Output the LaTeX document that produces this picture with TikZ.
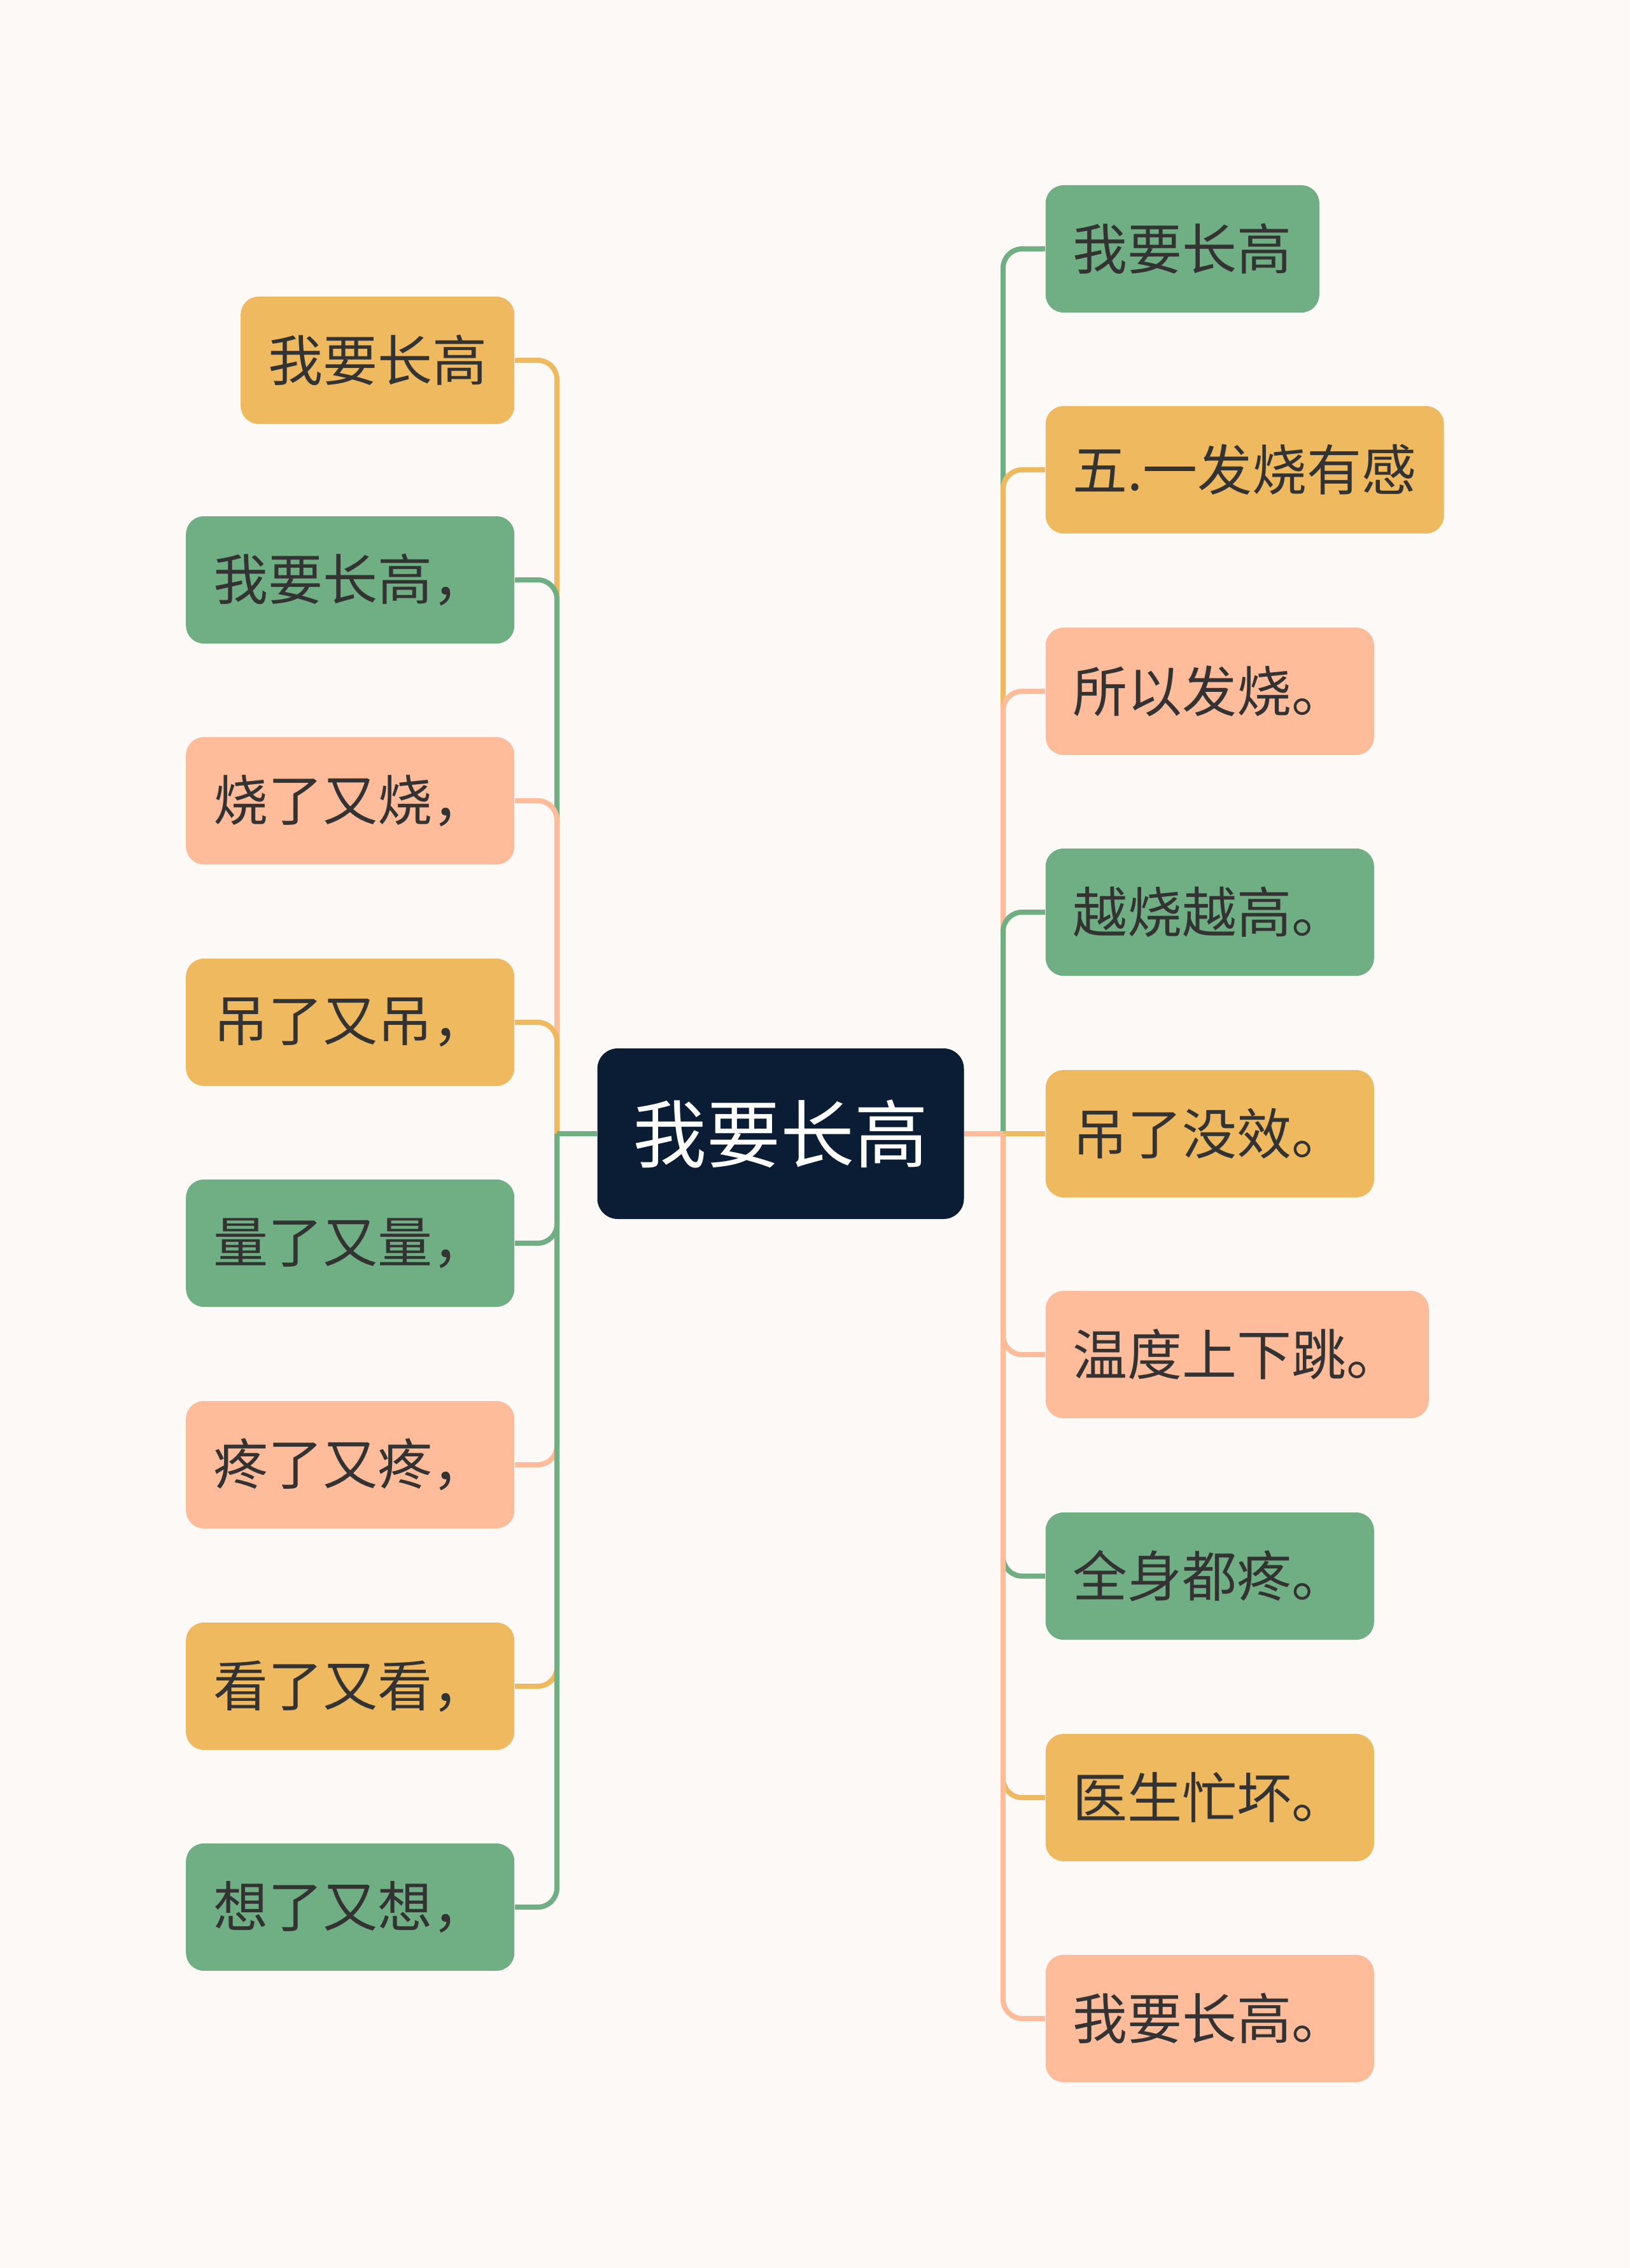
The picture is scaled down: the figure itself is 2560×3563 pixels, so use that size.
\documentclass[tikz,border=0pt]{standalone}
\usepackage{fontspec}
\setmainfont{Noto Sans CJK SC}
\usetikzlibrary{positioning}
\definecolor{bg}{HTML}{FDF9F7}
\definecolor{gr}{HTML}{70AF84}
\definecolor{ye}{HTML}{EFBA5F}
\definecolor{pe}{HTML}{FEBC9A}
\definecolor{nv}{HTML}{0B1C35}
\definecolor{ink}{HTML}{333333}
\begin{document}
\begin{tikzpicture}[x=0.25pt,y=-0.25pt,
  leaf/.style={rounded corners=7pt,minimum height=50pt,inner xsep=10.75pt,inner ysep=0pt,font=\fontsize{21.5}{26}\selectfont,text=ink},
  gbox/.style={leaf,fill=gr},
  ybox/.style={leaf,fill=ye},
  pbox/.style={leaf,fill=pe},
  root/.style={fill=nv,rounded corners=8pt,minimum height=67pt,inner xsep=14pt,inner ysep=0pt,font=\fontsize{29}{34}\selectfont,text=white},
  ln/.style={line width=2pt,rounded corners=7.5pt},
  gl/.style={ln,draw=gr},
  yl/.style={ln,draw=ye},
  pl/.style={ln,draw=pe}]
\fill[bg] (0,0) rectangle (2560,3563);
\node[root] (c) at (1226.5,1781) {我要长高};
\node[ybox,anchor=east] (l1) at (809,566) {我要长高};
\node[gbox,anchor=east] (l2) at (809,911) {我要长高，};
\node[pbox,anchor=east] (l3) at (809,1258) {烧了又烧，};
\node[ybox,anchor=east] (l4) at (809,1606) {吊了又吊，};
\node[gbox,anchor=east] (l5) at (809,1953) {量了又量，};
\node[pbox,anchor=east] (l6) at (809,2301) {疼了又疼，};
\node[ybox,anchor=east] (l7) at (809,2649) {看了又看，};
\node[gbox,anchor=east] (l8) at (809,2996) {想了又想，};
\node[gbox,anchor=west] (r1) at (1642,391) {我要长高};
\node[ybox,anchor=west] (r2) at (1642,738) {五.一发烧有感};
\node[pbox,anchor=west] (r3) at (1642,1086) {所以发烧。};
\node[gbox,anchor=west] (r4) at (1642,1433) {越烧越高。};
\node[ybox,anchor=west] (r5) at (1642,1781) {吊了没效。};
\node[pbox,anchor=west] (r6) at (1642,2128) {温度上下跳。};
\node[gbox,anchor=west] (r7) at (1642,2476) {全身都疼。};
\node[ybox,anchor=west] (r8) at (1642,2824) {医生忙坏。};
\node[pbox,anchor=west] (r9) at (1642,3171) {我要长高。};
\coordinate (lj) at (875,1781);
\coordinate (rj) at (1576,1781);
\foreach \n/\s in {l1/yl,l2/gl,l3/pl,l4/yl,l5/gl,l6/pl,l7/yl,l8/gl}{
  \draw[\s] (c.west) -- (lj);
  \draw[\s] (lj) |- (\n.east);
}
\foreach \n/\s in {r1/gl,r2/yl,r3/pl,r4/gl}{
  \draw[\s] (c.east) -- (rj);
  \draw[\s] (rj) |- (\n.west);
}
\draw[yl] (c.east) -- (rj) -- (r5.west);
\foreach \n/\s in {r6/pl,r7/gl,r8/yl,r9/pl}{
  \draw[\s] (c.east) -- (rj);
  \draw[\s] (rj) |- (\n.west);
}
\end{tikzpicture}
\end{document}
